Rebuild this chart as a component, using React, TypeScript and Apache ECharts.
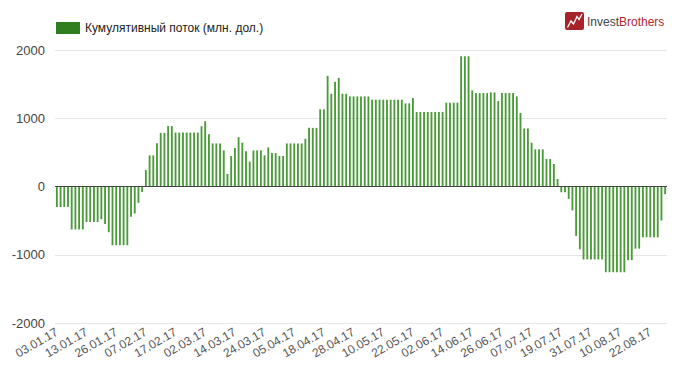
import React, { useEffect, useRef } from "react";
import * as echarts from "echarts";

const dates: string[] = [
  "03.01.17","04.01.17","05.01.17","06.01.17","09.01.17","10.01.17","11.01.17","12.01.17","13.01.17","17.01.17",
  "18.01.17","19.01.17","20.01.17","23.01.17","24.01.17","25.01.17","26.01.17","27.01.17","30.01.17","31.01.17",
  "01.02.17","02.02.17","03.02.17","06.02.17","07.02.17","08.02.17","09.02.17","10.02.17","13.02.17","14.02.17",
  "15.02.17","16.02.17","17.02.17","21.02.17","22.02.17","23.02.17","24.02.17","27.02.17","28.02.17",
  "01.03.17","02.03.17","03.03.17","06.03.17","07.03.17","08.03.17","09.03.17","10.03.17","13.03.17","14.03.17",
  "15.03.17","16.03.17","17.03.17","20.03.17","21.03.17","22.03.17","23.03.17","24.03.17","27.03.17","28.03.17",
  "29.03.17","30.03.17","31.03.17",
  "03.04.17","04.04.17","05.04.17","06.04.17","07.04.17","10.04.17","11.04.17","12.04.17","13.04.17","17.04.17",
  "18.04.17","19.04.17","20.04.17","21.04.17","24.04.17","25.04.17","26.04.17","27.04.17","28.04.17",
  "01.05.17","02.05.17","03.05.17","04.05.17","05.05.17","08.05.17","09.05.17","10.05.17","11.05.17","12.05.17",
  "15.05.17","16.05.17","17.05.17","18.05.17","19.05.17","22.05.17","23.05.17","24.05.17","25.05.17","26.05.17",
  "30.05.17","31.05.17",
  "01.06.17","02.06.17","05.06.17","06.06.17","07.06.17","08.06.17","09.06.17","12.06.17","13.06.17","14.06.17",
  "15.06.17","16.06.17","19.06.17","20.06.17","21.06.17","22.06.17","23.06.17","26.06.17","27.06.17","28.06.17",
  "29.06.17","30.06.17",
  "03.07.17","05.07.17","06.07.17","07.07.17","10.07.17","11.07.17","12.07.17","13.07.17","14.07.17","17.07.17",
  "18.07.17","19.07.17","20.07.17","21.07.17","24.07.17","25.07.17","26.07.17","27.07.17","28.07.17","31.07.17",
  "01.08.17","02.08.17","03.08.17","04.08.17","07.08.17","08.08.17","09.08.17","10.08.17","11.08.17","14.08.17",
  "15.08.17","16.08.17","17.08.17","18.08.17","21.08.17","22.08.17","23.08.17","24.08.17","25.08.17","28.08.17",
];

const flowJan: number[] = [
  -300, -300, -300, -300, -630, -630, -630, -630, -520, -520,
  -520, -520, -480, -550, -670, -860, -860, -860, -860, -860,
];
const flowFeb: number[] = [
  -445, -395, -240, -80, 240, 456, 456, 632, 785, 785,
  885, 885, 790, 790, 790, 790, 790, 790, 790,
];
const flowMar: number[] = [
  883, 956, 767, 631, 631, 631, 529, 184, 447, 563,
  723, 641, 515, 364, 529, 529, 529, 456, 573, 490,
  490, 447, 447,
];
const flowApr: number[] = [
  631, 631, 631, 631, 631, 699, 859, 859, 859, 1131,
  1131, 1621, 1359, 1534, 1592, 1359, 1359, 1320, 1320,
];
const flowMay: number[] = [
  1320, 1320, 1320, 1320, 1272, 1272, 1272, 1272, 1272, 1272,
  1272, 1272, 1272, 1218, 1218, 1296, 1092, 1092, 1092, 1092,
  1092, 1092,
];
const flowJun: number[] = [
  1092, 1092, 1228, 1228, 1228, 1228, 1908, 1908, 1908, 1408,
  1369, 1369, 1369, 1369, 1379, 1379, 1252, 1369, 1369, 1369,
  1369, 1320,
];
const flowJul: number[] = [
  1078, 850, 850, 641, 544, 544, 544, 403, 403, 330,
  110, -84, -84, -182, -350, -724, -921, -1069, -1069, -1069,
];
const flowAug: number[] = [
  -1069, -1069, -1069, -1256, -1256, -1256, -1256, -1256, -1256, -1079,
  -1079, -911, -911, -744, -744, -744, -744, -744, -498, -113,
];

const flows: number[] = [
  ...flowJan, ...flowFeb, ...flowMar, ...flowApr,
  ...flowMay, ...flowJun, ...flowJul, ...flowAug,
];

const yTicks = { min: -2000, max: 2000, step: 1000 };
const seriesName = "Кумулятивный поток (млн. дол.)";
const brandA = "Invest";
const brandB = "Brothers";

const FONT = "'Liberation Sans', Arial, sans-serif";

export default function App() {
  const ref = useRef<HTMLDivElement>(null);
  useEffect(() => {
    if (!ref.current) return;
    const chart = echarts.init(ref.current, undefined, { renderer: "svg" });
    chart.setOption({
      animation: false,
      backgroundColor: "#ffffff",
      textStyle: { fontFamily: FONT },
      grid: { left: 55, right: 13, top: 50, bottom: 49, containLabel: false },
      legend: {
        left: 51,
        top: 17,
        icon: "rect",
        itemWidth: 24,
        itemHeight: 12,
        itemGap: 10,
        textStyle: { fontSize: 12, color: "#222", fontFamily: FONT },
        data: [{ name: seriesName, itemStyle: { color: "#2f7f1e" } }],
      },
      xAxis: {
        type: "category",
        data: dates,
        boundaryGap: true,
        axisLine: { show: false, onZero: false },
        axisTick: { show: false },
        splitLine: { show: false },
        axisLabel: {
          interval: 7,
          rotate: 30,
          fontSize: 12,
          color: "#555",
          margin: 8,
          fontFamily: FONT,
        },
      },
      yAxis: {
        type: "value",
        min: yTicks.min,
        max: yTicks.max,
        interval: yTicks.step,
        axisLine: { show: false },
        axisTick: { show: false },
        axisLabel: {
          fontSize: 13,
          color: "#444",
          margin: 10,
          fontFamily: FONT,
          formatter: (v: number) => String(v),
        },
        splitLine: { show: true, lineStyle: { color: "#e6e6e6", width: 1 } },
      },
      series: [
        {
          name: seriesName,
          type: "bar",
          data: flows,
          barWidth: "50%",
          itemStyle: { color: "#4a9a39" },
          markLine: {
            silent: true,
            symbol: ["none", "none"],
            label: { show: false },
            lineStyle: { color: "#444", width: 1, type: "solid" },
            data: [{ yAxis: 0 }],
          },
        },
      ],
      graphic: [
        {
          type: "rect",
          shape: { x: 565, y: 12, width: 19, height: 18, r: 2 },
          style: { fill: "#a8222b" },
        },
        {
          type: "polyline",
          shape: {
            points: [
              [567.5, 27.5],
              [571, 21],
              [573.5, 24],
              [577, 16.5],
              [579, 19.5],
              [582, 14],
            ],
          },
          style: { stroke: "#ffffff", lineWidth: 1.3, fill: "none" },
        },
        {
          type: "text",
          x: 587,
          y: 22,
          style: {
            text: `{a|${brandA}}{b|${brandB}}`,
            verticalAlign: "middle",
            rich: {
              a: { fontSize: 12, fill: "#444", fontFamily: FONT },
              b: { fontSize: 12, fill: "#b0262e", fontFamily: FONT },
            },
          },
        },
      ],
    });
    return () => chart.dispose();
  }, []);
  return (
    <div
      ref={ref}
      style={{ position: "fixed", left: 0, top: 0, width: 680, height: 372 }}
    />
  );
}
